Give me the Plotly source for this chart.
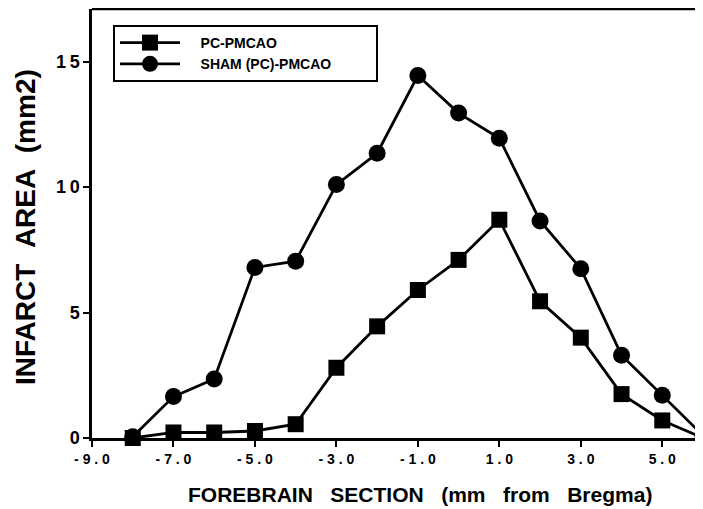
import plotly.graph_objects as go

# Data
section_mm = [-8, -7, -6, -5, -4, -3, -2, -1, 0, 1, 2, 3, 4, 5, 6]
pc_pmcao = [0.0, 0.22, 0.22, 0.28, 0.55, 2.8, 4.45, 5.9, 7.1, 8.7, 5.45, 4.0, 1.75, 0.7, 0.0]
sham_pc_pmcao = [0.05, 1.65, 2.35, 6.8, 7.05, 10.1, 11.35, 14.45, 12.95, 11.95, 8.65, 6.75, 3.3, 1.7, 0.1]

SP = "\u00a0"
x_tick_vals = [-9, -7, -5, -3, -1, 1, 3, 5]
x_tick_text = [SP.join(list(s)) for s in ["-9.0", "-7.0", "-5.0", "-3.0", "-1.0", "1.0", "3.0", "5.0"]]
y_tick_vals = [0, 5, 10, 15]
y_tick_text = ["0", "5", "1\u20090", "1\u20095"]

FONT = "Liberation Sans, Arial, Helvetica, sans-serif"

# page body has an 8px default margin: figure is sized/placed to compensate
W, H = 695, 501
ML, MR, MT, MB = 84, 0, 1, 71
PW = W - ML - MR
PH = H - MT - MB


def px_to_paper(xw, yw):
    """window pixel -> paper coords (for text placement only)"""
    xf, yf = xw - 8, yw - 8
    return (xf - ML) / PW, (H - MB - yf) / PH


fig = go.Figure()
fig.add_trace(go.Scatter(
    x=section_mm, y=pc_pmcao, name=SP * 4 + "PC-PMCAO" + SP * 10, mode="lines+markers",
    line=dict(color="black", width=2.8),
    marker=dict(symbol="square", size=16, color="black"),
    cliponaxis=False,
))
fig.add_trace(go.Scatter(
    x=section_mm, y=sham_pc_pmcao, name=SP * 4 + "SHAM (PC)-PMCAO" + SP * 10, mode="lines+markers",
    line=dict(color="black", width=2.8),
    marker=dict(symbol="circle", size=17, color="black"),
    cliponaxis=False,
))

lx, ly = px_to_paper(113, 25)
xt_x, xt_y = px_to_paper(420, 494)
yt_x, yt_y = px_to_paper(25, 227)

fig.update_layout(
    width=W, height=H,
    margin=dict(l=ML, r=MR, t=MT, b=MB),
    paper_bgcolor="white", plot_bgcolor="white",
    font=dict(family=FONT, color="black"),
    showlegend=True,
    legend=dict(
        x=lx, y=ly, xanchor="left", yanchor="top",
        bordercolor="black", borderwidth=2, bgcolor="white",
        font=dict(family=FONT, size=14, weight="bold", color="black"),
        tracegroupgap=0, itemwidth=60,
    ),
    xaxis=dict(
        range=[-9, 6], tickmode="array", tickvals=x_tick_vals, ticktext=x_tick_text,
        showgrid=False, zeroline=False, showline=True, linecolor="black", linewidth=2.5,
        ticks="outside", ticklen=6, tickwidth=2, tickcolor="black",
        tickfont=dict(family=FONT, size=14, weight="bold", color="black"),
    ),
    yaxis=dict(
        range=[0, 17.1], tickmode="array", tickvals=y_tick_vals, ticktext=y_tick_text,
        showgrid=False, zeroline=False, showline=True, linecolor="black", linewidth=2.5,
        ticks="outside", ticklen=6, tickwidth=2, tickcolor="black",
        tickfont=dict(family=FONT, size=18, weight="bold", color="black"),
    ),
    shapes=[dict(type="line", xref="paper", yref="paper", x0=0, x1=1, y0=1, y1=1,
                 line=dict(color="black", width=2.5))],
    annotations=[
        dict(text=(SP * 3).join(["FOREBRAIN", "SECTION", "(mm", "from", "Bregma)"]),
             xref="paper", yref="paper", x=xt_x, y=xt_y,
             xanchor="center", yanchor="middle", showarrow=False,
             font=dict(family=FONT, size=21, weight="bold", color="black")),
        dict(text=(SP * 2).join(["INFARCT", "AREA", "(mm2)"]),
             xref="paper", yref="paper", x=yt_x, y=yt_y,
             xanchor="center", yanchor="middle", showarrow=False, textangle=-90,
             font=dict(family=FONT, size=28, weight="bold", color="black")),
    ],
)

fig.write_html("out.html")
